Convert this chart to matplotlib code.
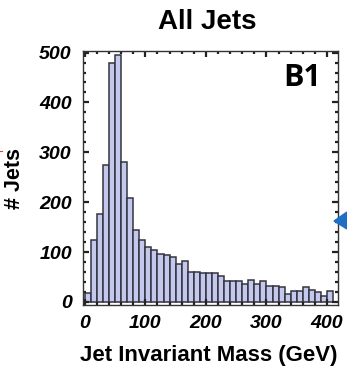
import matplotlib
matplotlib.use("Agg")
import matplotlib.pyplot as plt
import numpy as np
from matplotlib.ticker import MultipleLocator
from matplotlib.patches import Polygon

# Histogram data: 10 GeV bins from 0 to 410 GeV
bin_edges_start = 0
bin_width = 10
counts = [17, 124, 177, 275, 480, 495, 281, 208, 145, 124,
          110, 104, 97, 94, 90, 76, 82, 60, 60, 57,
          57, 57, 51, 42, 42, 42, 36, 43, 36, 42,
          32, 32, 30, 15, 22, 22, 29, 23, 19, 12, 21]
x_ticks = [0, 100, 200, 300, 400]
y_ticks = [0, 100, 200, 300, 400, 500]
title = "All Jets"
xlabel = "Jet Invariant Mass (GeV)"
ylabel = "# Jets"
panel_label = "B1"

fig = plt.figure(figsize=(3.47, 3.70), dpi=100)
ax = fig.add_axes([0.239, 0.176, 0.735, 0.686])

lefts = bin_edges_start + bin_width * np.arange(len(counts))
ax.bar(lefts, counts, width=bin_width, align="edge",
       color="#c3c8ec", edgecolor="#34343f", linewidth=1.1)

ax.set_xlim(-3, 418)
ax.set_ylim(-6, 503)
ax.set_xticks(x_ticks)
ax.set_yticks(y_ticks)
ax.xaxis.set_minor_locator(MultipleLocator(20))
ax.yaxis.set_minor_locator(MultipleLocator(20))
ax.tick_params(which="major", direction="in", length=4, width=1.6,
               top=True, right=True, color="#222222")
ax.tick_params(axis="y", which="major", pad=8)
ax.tick_params(axis="x", which="major", pad=7)
ax.tick_params(which="minor", direction="in", length=2, width=1.6,
               top=True, right=True, color="#222222")
for sp in ax.spines.values():
    sp.set_linewidth(1.0)
    sp.set_color("#333333")

tick_font = dict(family="Liberation Sans", weight="bold", style="italic", size=14)
ax.set_xticklabels([str(v) for v in x_ticks], fontdict=tick_font)
ax.set_yticklabels([str(v) for v in y_ticks], fontdict=tick_font)

fig.text(0.597, 0.940, title, ha="center", va="center",
         family="Liberation Sans", weight="bold", size=20)
fig.text(0.603, 0.040, xlabel, ha="center", va="center",
         family="Liberation Sans", weight="bold", size=16)
fig.text(0.043, 0.518, ylabel, ha="center", va="center", rotation=90,
         family="Liberation Sans", weight="bold", size=15.5)
fig.text(0.870, 0.790, panel_label, ha="center", va="center",
         family="Open Sans", weight="bold", size=22)

# artifacts from the original crop
tri = Polygon([[334 / 347, 1 - 221 / 370], [1.0, 1 - 212 / 370], [1.0, 1 - 229 / 370]],
              closed=True, transform=fig.transFigure, color="#1f6fc4", clip_on=False)
fig.patches.append(tri)
fig.lines.append(plt.Line2D([0, 2 / 347], [1 - 151 / 370, 1 - 151 / 370],
                            transform=fig.transFigure, color="#e04040", lw=0.8))

fig.savefig("out.png", dpi=100)
